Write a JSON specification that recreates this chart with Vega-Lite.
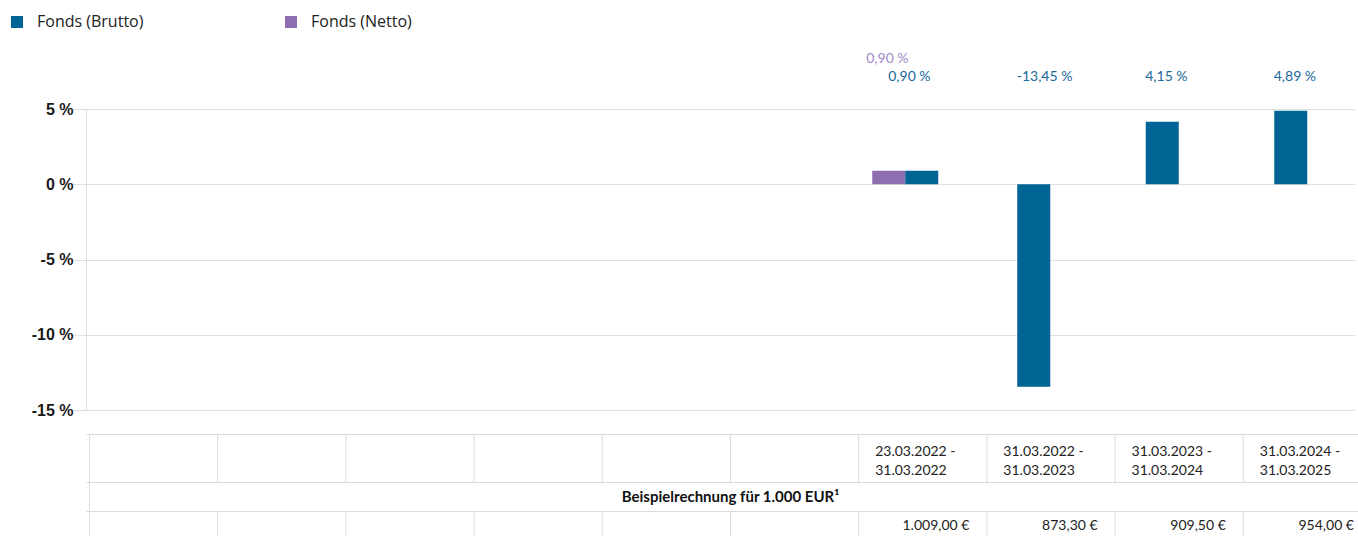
{
  "$schema": "https://vega.github.io/schema/vega-lite/v6.json",
  "padding": {"left": 9, "top": 14, "right": 0, "bottom": 0},
  "bounds": "flush",
  "spacing": 24,
  "config": {
    "view": {"stroke": null},
    "font": "Lato",
    "locale": {"number": {"decimal": ",", "thousands": ".", "grouping": [3], "currency": ["", " €"], "minus": "-"}}
  },
  "datasets": {
    "perf": [
      {"id": 7, "serie": "Fonds (Netto)", "wert": 0.90},
      {"id": 7, "serie": "Fonds (Brutto)", "wert": 0.90},
      {"id": 8, "serie": "Fonds (Brutto)", "wert": -13.45},
      {"id": 9, "serie": "Fonds (Brutto)", "wert": 4.15},
      {"id": 10, "serie": "Fonds (Brutto)", "wert": 4.89}
    ],
    "tabelle": [
      {"id": 1, "zeitraum": "", "betrag": null},
      {"id": 2, "zeitraum": "", "betrag": null},
      {"id": 3, "zeitraum": "", "betrag": null},
      {"id": 4, "zeitraum": "", "betrag": null},
      {"id": 5, "zeitraum": "", "betrag": null},
      {"id": 6, "zeitraum": "", "betrag": null},
      {"id": 7, "zeitraum": "23.03.2022 -\n31.03.2022", "betrag": 1009.00},
      {"id": 8, "zeitraum": "31.03.2022 -\n31.03.2023", "betrag": 873.30},
      {"id": 9, "zeitraum": "31.03.2023 -\n31.03.2024", "betrag": 909.50},
      {"id": 10, "zeitraum": "31.03.2024 -\n31.03.2025", "betrag": 954.00}
    ]
  },
  "vconcat": [
    {
      "width": 1272,
      "height": 34,
      "data": {"name": "perf"},
      "layer": [
        {
          "transform": [{"filter": "datum.serie == 'Fonds (Brutto)'"}],
          "mark": {"type": "text", "align": "left", "baseline": "middle", "dx": -17, "fontSize": 14, "color": "#17699a", "text": {"expr": "format(datum.wert, '.2f') + ' %'"}},
          "encoding": {
            "x": {"field": "id", "type": "ordinal", "axis": null, "scale": {"domain": [1, 2, 3, 4, 5, 6, 7, 8, 9, 10], "range": [-16, 1269], "paddingInner": 0.4864, "paddingOuter": 0.2432}},
            "y": {"field": "serie", "type": "nominal", "axis": null, "scale": {"type": "point", "domain": ["Fonds (Netto)", "Fonds (Brutto)"], "padding": 0.4}}
          }
        },
        {
          "transform": [{"filter": "datum.serie == 'Fonds (Netto)'"}],
          "mark": {"type": "text", "align": "left", "baseline": "middle", "dx": -39, "fontSize": 14, "color": "#a08ac6", "text": {"expr": "format(datum.wert, '.2f') + ' %'"}},
          "encoding": {
            "x": {"field": "id", "type": "ordinal", "axis": null, "scale": {"domain": [1, 2, 3, 4, 5, 6, 7, 8, 9, 10], "range": [-16, 1269], "paddingInner": 0.4864, "paddingOuter": 0.2432}},
            "y": {"field": "serie", "type": "nominal", "axis": null, "scale": {"type": "point", "domain": ["Fonds (Netto)", "Fonds (Brutto)"], "padding": 0.4}}
          }
        }
      ]
    },
    {
      "width": 1272,
      "height": 301,
      "data": {"name": "perf"},
      "encoding": {
        "y": {
          "field": "wert", "type": "quantitative",
          "scale": {"domain": [-15, 5], "nice": false},
          "axis": {"values": [-15, -10, -5, 0, 5], "title": null, "labelExpr": "datum.value + ' %'", "labelFont": "Liberation Sans", "labelFontWeight": "bold", "labelFontSize": 16, "labelColor": "#1a1a1a", "labelPadding": 9, "tickSize": 4, "tickColor": "#dcdcdc", "domainColor": "#dcdcdc", "gridColor": "#e0e0e0", "grid": true}
        },
        "color": {
          "field": "serie", "type": "nominal",
          "scale": {"domain": ["Fonds (Brutto)", "Fonds (Netto)"], "range": ["#006595", "#8d6fb1"]},
          "legend": {"orient": "none", "legendX": -77, "legendY": -37, "direction": "horizontal", "title": null, "symbolType": "square", "symbolSize": 144, "symbolStrokeWidth": 0, "labelFont": "Open Sans", "labelFontSize": 16, "labelColor": "#222222", "columnPadding": 139, "labelOffset": 12, "padding": 0}
        }
      },
      "layer": [
        {
          "transform": [{"filter": "datum.id != 7"}],
          "mark": {"type": "bar", "width": 33},
          "encoding": {
            "x": {"field": "id", "type": "ordinal", "axis": null, "scale": {"domain": [1, 2, 3, 4, 5, 6, 7, 8, 9, 10], "range": [-16, 1269], "paddingInner": 0.4864, "paddingOuter": 0.2432}}
          }
        },
        {
          "transform": [{"filter": "datum.id == 7"}],
          "mark": {"type": "bar"},
          "encoding": {
            "x": {"field": "id", "type": "ordinal", "axis": null, "scale": {"domain": [1, 2, 3, 4, 5, 6, 7, 8, 9, 10], "range": [-16, 1269], "paddingInner": 0.4864, "paddingOuter": 0.2432}},
            "xOffset": {"field": "serie", "type": "nominal", "scale": {"domain": ["Fonds (Netto)", "Fonds (Brutto)"], "paddingInner": 0, "paddingOuter": 0}}
          }
        }
      ]
    },
    {
      "spacing": 0,
      "bounds": "flush",
      "vconcat": [
        {
          "width": 1272,
          "height": 48,
          "data": {"name": "tabelle"},
          "layer": [
            {
              "mark": {"type": "rule", "color": "#dcdcdc"},
              "encoding": {
                "x": {"field": "id", "type": "quantitative", "scale": {"domain": [0.9727, 10.895], "nice": false, "zero": false}, "axis": {"orient": "top", "domain": true, "domainColor": "#dcdcdc", "ticks": false, "labels": false, "grid": false, "title": null}}
              }
            },
            {
              "mark": {"type": "text", "align": "left", "baseline": "middle", "dx": 16.5, "dy": -6.3, "fontSize": 14, "lineHeight": 19, "lineBreak": "\n", "color": "#222222"},
              "encoding": {
                "x": {"field": "id", "type": "quantitative", "scale": {"domain": [0.9727, 10.895], "nice": false, "zero": false}, "axis": {"orient": "top", "domain": true, "domainColor": "#dcdcdc", "ticks": false, "labels": false, "grid": false, "title": null}},
                "text": {"field": "zeitraum", "type": "nominal"}
              }
            }
          ]
        },
        {
          "width": 1272,
          "height": 29,
          "layer": [
            {
              "data": {"name": "tabelle"},
              "transform": [{"filter": "datum.id == 1"}],
              "mark": {"type": "rule", "color": "#dcdcdc"},
              "encoding": {
                "x": {"field": "id", "type": "quantitative", "scale": {"domain": [0.9727, 10.895], "nice": false, "zero": false}, "axis": {"orient": "top", "domain": true, "domainColor": "#dcdcdc", "ticks": false, "labels": false, "grid": false, "title": null}}
              }
            },
            {
              "data": {"values": [{"titel": "Beispielrechnung für 1.000 EUR¹"}]},
              "mark": {"type": "text", "fontWeight": "bold", "fontSize": 15, "dx": 8.5, "baseline": "middle", "color": "#111111"},
              "encoding": {"text": {"field": "titel", "type": "nominal"}}
            }
          ]
        },
        {
          "width": 1272,
          "height": 25,
          "data": {"name": "tabelle"},
          "layer": [
            {
              "mark": {"type": "rule", "color": "#dcdcdc"},
              "encoding": {
                "x": {"field": "id", "type": "quantitative", "scale": {"domain": [0.9727, 10.895], "nice": false, "zero": false}, "axis": {"orient": "top", "domain": true, "domainColor": "#dcdcdc", "ticks": false, "labels": false, "grid": false, "title": null}}
              }
            },
            {
              "transform": [{"filter": "isValid(datum.betrag)"}],
              "mark": {"type": "text", "align": "right", "baseline": "middle", "dx": 110.7, "dy": 2.5, "fontSize": 14, "color": "#222222"},
              "encoding": {
                "x": {"field": "id", "type": "quantitative", "scale": {"domain": [0.9727, 10.895], "nice": false, "zero": false}, "axis": {"orient": "top", "domain": true, "domainColor": "#dcdcdc", "ticks": false, "labels": false, "grid": false, "title": null}},
                "text": {"field": "betrag", "type": "quantitative", "format": "$,.2f"}
              }
            }
          ]
        }
      ]
    }
  ]
}
